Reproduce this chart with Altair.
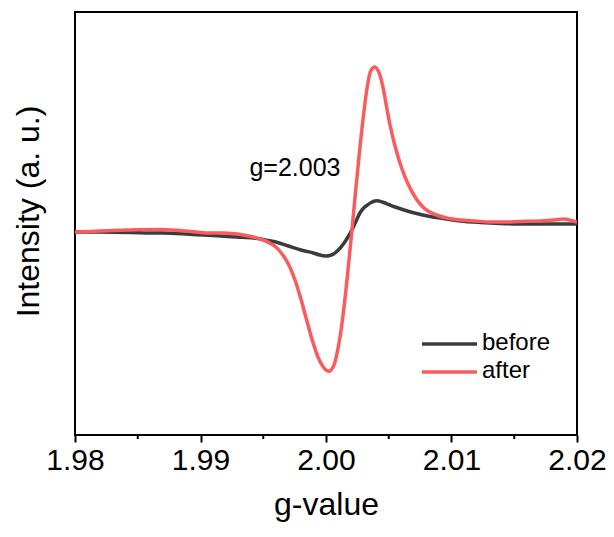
import altair as alt
import pandas as pd

# g-values and intensities (a.u.)
g_after = [1.9800, 1.9820, 1.9844, 1.9870, 1.9888, 1.9902, 1.9916, 1.9929, 1.9942, 1.9950,
           1.9955, 1.9960, 1.9965, 1.9970, 1.9975, 1.9980, 1.9985, 1.9990, 1.9995, 2.0000,
           2.0003, 2.0006, 2.0009, 2.0012, 2.0015, 2.0018, 2.0021, 2.0024, 2.0027, 2.0030,
           2.0033, 2.0036, 2.0039, 2.0042, 2.0045, 2.0048, 2.0051, 2.0055, 2.0060, 2.0065,
           2.0070, 2.0075, 2.0080, 2.0088, 2.0096, 2.0107, 2.0119, 2.0131, 2.0143, 2.0155,
           2.0171, 2.0182, 2.0189, 2.0194, 2.0200]
i_after = [0, 1, 2, 2.5, 1, -0.7, -1, -2, -5, -8,
           -11, -15, -22, -32, -47, -67, -90, -112, -129, -138,
           -139, -134, -120, -98, -68, -32, 6, 46, 84, 118,
           146, 162, 165, 160, 147, 127, 107, 86, 65, 49,
           37, 28, 22, 17, 14, 12, 11, 10, 10, 10.5,
           11, 12, 13, 12, 10]

g_before = [1.9800, 1.9820, 1.9844, 1.9860, 1.9870, 1.9888, 1.9902, 1.9916, 1.9929, 1.9942,
            1.9950, 1.9960, 1.9970, 1.9980, 1.9990, 1.9995, 2.0000, 2.0003, 2.0006, 2.0009,
            2.0012, 2.0015, 2.0018, 2.0021, 2.0024, 2.0027, 2.0030, 2.0033, 2.0036, 2.0039,
            2.0042, 2.0046, 2.0050, 2.0055, 2.0061, 2.0069, 2.0077, 2.0085, 2.0096, 2.0107,
            2.0123, 2.0139, 2.0155, 2.0171, 2.0186, 2.0200]
i_before = [0, 0, -0.5, -1, -1, -2, -3, -4, -5, -6,
            -7.5, -10, -14, -18, -21, -23, -24, -23.5, -22, -19,
            -15, -10, -4, 3, 11, 19, 24, 27, 29.5, 31,
            31, 29.5, 27.5, 25, 22.5, 19.5, 17, 15, 13, 11,
            9.5, 8.5, 8, 8, 8, 8]

x_ticks = [1.98, 1.99, 2.00, 2.01, 2.02]
x_minor = [1.985, 1.995, 2.005, 2.015]
series_names = ["before", "after"]
series_colors = ["#3b3b3b", "#fa5c5e"]
annotation = "g=2.003"

rows = [{"g": g, "I": v, "s": "before"} for g, v in zip(g_before, i_before)] + \
       [{"g": g, "I": v, "s": "after"} for g, v in zip(g_after, i_after)]
df = pd.DataFrame(rows)

FONT = "Liberation Sans"
xscale = alt.Scale(domain=[1.98, 2.02], nice=False, zero=False)
yscale = alt.Scale(domain=[-203, 220], nice=False, zero=False)

lines = alt.Chart(df).mark_line(strokeWidth=3.5, interpolate="catmull-rom", clip=True).encode(
    x=alt.X("g:Q", scale=xscale,
            axis=alt.Axis(title="g-value", values=x_ticks, format=".2f", labelFontSize=30,
                          titleFontSize=32, titleFontWeight="normal", labelFont=FONT, titleFont=FONT,
                          labelColor="black", titleColor="black", tickColor="black", tickSize=7,
                          tickWidth=2, domain=False, grid=False, labelPadding=3, titlePadding=14,
                          labelFlush=False)),
    y=alt.Y("I:Q", scale=yscale,
            axis=alt.Axis(title="Intensity (a. u.)", labels=False, ticks=False, domain=False,
                          grid=False, titleFontSize=32, titleFontWeight="normal", titleFont=FONT,
                          titleColor="black", titlePadding=30, titleY=199)),
    color=alt.Color("s:N", scale=alt.Scale(domain=series_names, range=series_colors), legend=None),
    detail="s:N",
)

minor = alt.Chart(pd.DataFrame({"g": x_minor})).mark_rule(color="black", strokeWidth=2).encode(
    x=alt.X("g:Q", scale=xscale),
    y=alt.value(423), y2=alt.value(427),
)

note = alt.Chart(pd.DataFrame({"g": [1.9939], "I": [64], "t": [annotation]})).mark_text(
    align="left", baseline="middle", fontSize=25, font=FONT, color="black"
).encode(x=alt.X("g:Q", scale=xscale), y=alt.Y("I:Q", scale=yscale), text="t:N")

leg_df = pd.DataFrame({"s": series_names, "yy": [332, 360]})
leg_lines = alt.Chart(leg_df).mark_rule(strokeWidth=3.5).encode(
    x=alt.value(347), x2=alt.value(402), y=alt.Y("yy:Q", scale=None),
    color=alt.Color("s:N", scale=alt.Scale(domain=series_names, range=series_colors), legend=None),
)
leg_text = alt.Chart(leg_df).mark_text(align="left", baseline="middle", fontSize=24, font=FONT,
                                        color="black", dy=-1).encode(
    x=alt.value(407), y=alt.Y("yy:Q", scale=None), text="s:N",
)

chart = alt.layer(lines, minor, note, leg_lines, leg_text).properties(
    width=502, height=423,
    autosize=alt.AutoSizeParams(type="none"),
    padding={"left": 67, "top": 4, "right": 29, "bottom": 94},
).configure_view(stroke="black", strokeWidth=2)

chart.save("out.html", embed_options={"renderer": "svg", "actions": False})
